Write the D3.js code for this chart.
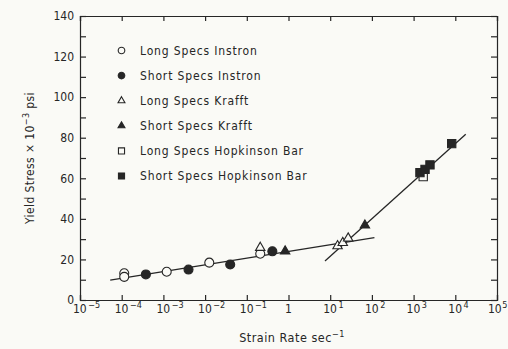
<!DOCTYPE html>
<html>
<head>
<meta charset="utf-8">
<script src="https://cdn.jsdelivr.net/npm/d3@7"></script>
<style>
  html, body { margin: 0; padding: 0; background: #fafaf6; }
  svg { display: block; }
  text { font-family: "DejaVu Sans Condensed", "DejaVu Sans", sans-serif; fill: #262626; }
</style>
</head>
<body>
<svg id="chart" width="508" height="349"></svg>
<script>
// Yield stress (ksi) against strain rate (1/s) for each specimen / machine group
const longInstron    = [[1.15e-4, 13.2], [1.15e-4, 11.4], [1.2e-3, 13.9], [1.26e-2, 18.4], [0.21, 22.8]];
const shortInstron   = [[3.8e-4, 12.6], [4.0e-3, 15.0], [4.0e-2, 17.5], [0.41, 24.0]];
const longKrafft     = [[0.21, 25.8], [15, 26.6], [20, 28.2], [27, 30.4]];
const shortKrafft    = [[0.83, 24.0], [68, 36.8]];
const longHopkinson  = [[1700, 60.8]];
const shortHopkinson = [[1420, 62.8], [1880, 64.4], [2470, 66.6], [8200, 77.1]];

// Fitted trend lines (end points)
const lowRateFit  = [[5.3e-5, 9.8], [115, 30.7]];
const highRateFit = [[7.5, 19.2], [17800, 81.7]];

const xExponents = [-5, -4, -3, -2, -1, 0, 1, 2, 3, 4, 5];
const yLabelTicks = [0, 20, 40, 60, 80, 100, 120, 140];
const yMinorTicks = d3.range(0, 141, 10);

const legendItems = [
  { label: "Long Specs Instron",          shape: "circle",   filled: false },
  { label: "Short Specs Instron",         shape: "circle",   filled: true  },
  { label: "Long Specs Krafft",           shape: "triangle", filled: false },
  { label: "Short Specs Krafft",          shape: "triangle", filled: true  },
  { label: "Long Specs Hopkinson Bar",    shape: "square",   filled: false },
  { label: "Short Specs Hopkinson Bar",   shape: "square",   filled: true  }
];
const seriesData = [longInstron, shortInstron, longKrafft, shortKrafft, longHopkinson, shortHopkinson];

const ink = "#262626";
const paper = "#fafaf6";
const svg = d3.select("#chart");
const margin = { left: 80, right: 11, top: 16, bottom: 49 };
const W = 508, H = 349;

const x = d3.scaleLog().domain([1e-5, 1e5]).range([margin.left, W - margin.right]);
const y = d3.scaleLinear().domain([0, 140]).range([H - margin.bottom, margin.top]);

// Frame axes with inward ticks
const decadeTicks = xExponents.map(e => Math.pow(10, e));
svg.append("g").attr("transform", `translate(0,${y(0)})`)
  .call(d3.axisTop(x).tickValues(decadeTicks).tickSize(5).tickFormat(""));
svg.append("g").attr("transform", `translate(0,${y(140)})`)
  .call(d3.axisBottom(x).tickValues(decadeTicks).tickSize(5).tickFormat(""));
svg.append("g").attr("transform", `translate(${x(1e-5)},0)`)
  .call(d3.axisRight(y).tickValues(yMinorTicks).tickSize(6).tickFormat(""));
svg.append("g").attr("transform", `translate(${x(1e5)},0)`)
  .call(d3.axisLeft(y).tickValues(yMinorTicks).tickSize(6).tickFormat(""));
svg.selectAll(".domain, .tick line").attr("stroke", ink).attr("stroke-width", 1.2);

// Y tick labels
svg.append("g").selectAll("text").data(yLabelTicks).join("text")
  .attr("x", 74).attr("y", d => y(d)).attr("dy", "0.36em")
  .attr("text-anchor", "end").attr("font-size", 12).text(d => d);

// X tick labels as powers of ten
const xl = svg.append("g").selectAll("text").data(xExponents).join("text")
  .attr("y", y(0) + 13).attr("font-size", 12);
xl.each(function (e) {
  const t = d3.select(this);
  if (e === 0) {
    t.attr("x", x(1)).attr("text-anchor", "middle").text("1");
    return;
  }
  // last label is pulled in so it stays inside the page
  t.attr("x", x(Math.pow(10, e)) - (e === 5 ? 9 : 7));
  t.append("tspan").text("10");
  t.append("tspan").attr("dy", -5).attr("dx", e === 5 ? 0.5 : 1.5).attr("font-size", 9)
    .text(e < 0 ? "\u2212" + Math.abs(e) : String(e));
});

// Axis titles
svg.append("text").attr("x", 292).attr("y", 342).attr("text-anchor", "middle")
  .attr("font-size", 12.5).attr("letter-spacing", 0.5)
  .call(t => {
    t.append("tspan").text("Strain Rate  sec");
    t.append("tspan").attr("dy", -5).attr("font-size", 9).text("\u22121");
  });
svg.append("text").attr("transform", `translate(34,${(y(0) + y(140)) / 2}) rotate(-90)`)
  .attr("text-anchor", "middle").attr("font-size", 12).attr("letter-spacing", 0.4)
  .call(t => {
    t.append("tspan").text("Yield Stress \u00d7 10");
    t.append("tspan").attr("dy", -5).attr("font-size", 9).text("\u22123");
    t.append("tspan").attr("dy", 5).text(" psi");
  });

// Trend lines
const line = d3.line().x(d => x(d[0])).y(d => y(d[1]));
[lowRateFit, highRateFit].forEach(seg => {
  svg.append("path").attr("d", line(seg)).attr("fill", "none")
    .attr("stroke", ink).attr("stroke-width", 1.3);
});

// Marker drawing
function marker(g, shape, filled, size) {
  const sym = { circle: d3.symbolCircle, triangle: d3.symbolTriangle, square: d3.symbolSquare }[shape];
  const area = { circle: Math.PI * size * size, triangle: size * size * 1.9, square: size * size * 3.4 }[shape];
  g.append("path").attr("d", d3.symbol(sym, area)())
    .attr("fill", filled ? ink : paper).attr("stroke", ink).attr("stroke-width", 1.1);
}

seriesData.forEach((data, i) => {
  const item = legendItems[i];
  data.forEach(d => {
    const g = svg.append("g").attr("transform", `translate(${x(d[0])},${y(d[1])})`);
    marker(g, item.shape, item.filled, 4.5);
  });
});

// Legend
const legend = svg.append("g");
legendItems.forEach((item, i) => {
  const cy = 50.5 + i * 25.1;
  const g = legend.append("g").attr("transform", `translate(121.5,${cy})`);
  marker(g, item.shape, item.filled, 3.3);
  legend.append("text").attr("x", 140).attr("y", cy).attr("dy", "0.36em")
    .attr("font-size", 12).attr("letter-spacing", 0.85).text(item.label);
});
</script>
</body>
</html>
